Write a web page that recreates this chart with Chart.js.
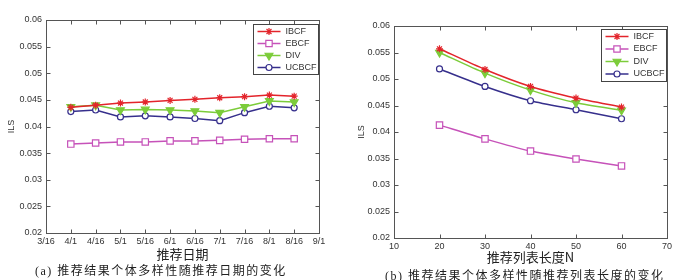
<!DOCTYPE html>
<html>
<head>
<meta charset="utf-8">
<script src="https://cdn.jsdelivr.net/npm/chart.js@4.4.1/dist/chart.umd.min.js"></script>
<style>
    body { margin: 0; background: #fff; width: 700px; height: 280px; position: relative; overflow: hidden; }
    canvas { position: absolute; top: 0; }
    .caption {
        position: absolute;
        font-family: "Liberation Serif", "Noto Sans CJK SC", serif;
        font-size: 12px;
        color: #222;
        white-space: nowrap;
        letter-spacing: 1.5px;
    }
</style>
</head>
<body>
<canvas id="dateChart" width="350" height="280" style="left:0"></canvas>
<canvas id="lengthChart" width="350" height="280" style="left:350px"></canvas>
<div class="caption" style="left:35px; top:261px">(a) 推荐结果个体多样性随推荐日期的变化</div>
<div class="caption" style="left:385px; top:266px">(b) 推荐结果个体多样性随推荐列表长度的变化</div>

<script>
// Данные (a): ILS по датам рекомендаций
const dateLabels = ['3/16', '4/1', '4/16', '5/1', '5/16', '6/1', '6/16', '7/1', '7/16', '8/1', '8/16', '9/1'];
const datePositions = [1, 2, 3, 4, 5, 6, 7, 8, 9, 10];
const ibcfByDate  = [0.0436, 0.0440, 0.0444, 0.0446, 0.0449, 0.0451, 0.0454, 0.0456, 0.0459, 0.0457];
const ebcfByDate  = [0.0367, 0.0369, 0.0371, 0.0371, 0.0373, 0.0373, 0.0374, 0.0376, 0.0377, 0.0377];
const divByDate   = [0.0437, 0.0440, 0.0431, 0.0432, 0.0431, 0.0429, 0.0426, 0.0437, 0.0448, 0.0446];
const ucbcfByDate = [0.0428, 0.0431, 0.0418, 0.0420, 0.0418, 0.0415, 0.0411, 0.0426, 0.0438, 0.0435];

// Данные (b): ILS по длине списка N
const listLengths = [20, 30, 40, 50, 60];
const ibcfByLength  = [0.0557, 0.0518, 0.0486, 0.0464, 0.0447];
const ebcfByLength  = [0.0413, 0.0387, 0.0364, 0.0349, 0.0336];
const divByLength   = [0.0550, 0.0511, 0.0479, 0.0455, 0.0441];
const ucbcfByLength = [0.0519, 0.0486, 0.0459, 0.0442, 0.0425];

const seriesNames = ['IBCF', 'EBCF', 'DIV', 'UCBCF'];
const yMin = 0.02, yMax = 0.06, yStep = 0.005;

// Стили серий
const seriesStyles = [
    { color: '#e3242b', pointStyle: 'star', radius: 3.5, fill: '#e3242b', rotation: 0 },
    { color: '#c652b9', pointStyle: 'rect', radius: 4.5, fill: '#ffffff', rotation: 0 },
    { color: '#7ccc3a', pointStyle: 'triangle', radius: 4.5, fill: '#7ccc3a', rotation: 180 },
    { color: '#362f8c', pointStyle: 'circle', radius: 3, fill: '#ffffff', rotation: 0 }
];

const tickFont = { family: 'Liberation Sans', size: 9 };
const cjkFont = '"Noto Sans CJK SC", "Liberation Serif"';

function makeDatasets(xs, seriesValues, tension) {
    return seriesValues.map((vals, i) => {
        const s = seriesStyles[i];
        return {
            label: seriesNames[i],
            data: vals.map((v, k) => ({ x: xs[k], y: v })),
            borderColor: s.color,
            backgroundColor: s.fill,
            borderWidth: 1.5,
            pointStyle: s.pointStyle,
            pointRadius: s.radius,
            pointRotation: s.rotation,
            pointBorderColor: s.color,
            pointBackgroundColor: s.fill,
            pointBorderWidth: 1.2,
            tension: tension
        };
    });
}

// Рамка и внутренние засечки как в MATLAB
const boxTicks = {
    id: 'boxTicks',
    afterDatasetsDraw(chart) {
        const { ctx, chartArea: a, scales: { x, y } } = chart;
        const len = 4;
        ctx.save();
        ctx.strokeStyle = '#555';
        ctx.lineWidth = 1;
        const l = Math.round(a.left) + 0.5, r = Math.round(a.right) + 0.5;
        const t = Math.round(a.top) + 0.5, b = Math.round(a.bottom) + 0.5;
        ctx.strokeRect(l, t, r - l, b - t);
        ctx.beginPath();
        x.ticks.forEach((tk, i) => {
            const px = Math.round(x.getPixelForTick(i)) + 0.5;
            ctx.moveTo(px, b); ctx.lineTo(px, b - len);
            ctx.moveTo(px, t); ctx.lineTo(px, t + len);
        });
        y.ticks.forEach((tk, i) => {
            const py = Math.round(y.getPixelForTick(i)) + 0.5;
            ctx.moveTo(l, py); ctx.lineTo(l + len, py);
            ctx.moveTo(r, py); ctx.lineTo(r - len, py);
        });
        ctx.stroke();
        ctx.restore();
    }
};

// Легенда в рамке: линия + маркер
const boxLegend = {
    id: 'boxLegend',
    afterDraw(chart) {
        const { ctx, chartArea: a } = chart;
        const opts = chart.options.plugins.boxLegend;
        const w = 65, rowH = opts.rowH, h = rowH * 4 + 2;
        const bx = Math.round(a.right - w - 1) + 0.5, by = Math.round(a.top + opts.top) + 0.5;
        ctx.save();
        ctx.fillStyle = '#fff';
        ctx.fillRect(bx, by, w, h);
        ctx.strokeStyle = '#444';
        ctx.lineWidth = 1;
        ctx.strokeRect(bx, by, w, h);
        chart.data.datasets.forEach((ds, i) => {
            const s = seriesStyles[i];
            const cy = by + 7 + i * rowH;
            ctx.strokeStyle = s.color;
            ctx.lineWidth = 1.5;
            ctx.beginPath();
            ctx.moveTo(bx + 4, cy); ctx.lineTo(bx + 27, cy);
            ctx.stroke();
            ctx.fillStyle = s.fill;
            ctx.lineWidth = 1.2;
            Chart.helpers.drawPoint(ctx, {
                pointStyle: s.pointStyle, radius: s.radius, rotation: s.rotation, borderWidth: 1.2
            }, bx + 15.5, cy);
            ctx.fillStyle = '#333';
            ctx.font = '9px "Liberation Sans"';
            ctx.textBaseline = 'middle';
            ctx.fillText(ds.label, bx + 32, cy);
        });
        ctx.restore();
    }
};

function makeChart(canvasId, cfg) {
    const ctx = document.getElementById(canvasId).getContext('2d');
    return new Chart(ctx, {
        type: 'line',
        data: { datasets: cfg.datasets },
        options: {
            responsive: false,
            animation: false,
            layout: { padding: { top: cfg.top, right: cfg.right, left: 0, bottom: 0 } },
            plugins: {
                legend: { display: false },
                tooltip: { enabled: false },
                boxLegend: { top: cfg.legendTop, rowH: cfg.legendRow }
            },
            scales: {
                x: {
                    type: 'linear',
                    min: cfg.xMin,
                    max: cfg.xMax,
                    grid: { display: false, drawTicks: false },
                    border: { display: false },
                    ticks: {
                        stepSize: cfg.xStep,
                        autoSkip: false,
                        maxRotation: 0,
                        padding: 3,
                        color: '#333',
                        font: tickFont,
                        callback: cfg.xCallback
                    },
                    title: {
                        display: true,
                        text: cfg.xTitle,
                        color: '#222',
                        font: { family: cjkFont, size: 13 },
                        padding: { top: 0, bottom: cfg.xTitlePad }
                    },
                    afterFit: scale => { scale.height = cfg.xHeight; }
                },
                y: {
                    min: yMin,
                    max: yMax,
                    grid: { display: false, drawTicks: false },
                    border: { display: false },
                    ticks: {
                        stepSize: yStep,
                        padding: 4,
                        color: '#333',
                        font: tickFont,
                        callback: v => String(+v.toFixed(3))
                    },
                    title: {
                        display: true,
                        text: 'ILS',
                        color: '#333',
                        font: { family: 'Liberation Sans', size: 9 },
                        padding: { top: 6.5, bottom: 0 }
                    },
                    afterFit: scale => { scale.width = cfg.yWidth; }
                }
            }
        },
        plugins: [boxTicks, boxLegend]
    });
}

document.addEventListener('DOMContentLoaded', function() {
    makeChart('dateChart', {
        datasets: makeDatasets(datePositions, [ibcfByDate, ebcfByDate, divByDate, ucbcfByDate], 0),
        top: 20, right: 31, yWidth: 46, xHeight: 47, xTitlePad: 18,
        xMin: 0, xMax: 11, xStep: 1,
        xCallback: v => dateLabels[v],
        xTitle: '推荐日期',
        legendTop: 4, legendRow: 12
    });
    makeChart('lengthChart', {
        datasets: makeDatasets(listLengths, [ibcfByLength, ebcfByLength, divByLength, ucbcfByLength], 0.25),
        top: 26, right: 33, yWidth: 44, xHeight: 42, xTitlePad: 15,
        xMin: 10, xMax: 70, xStep: 10,
        xCallback: v => String(v),
        xTitle: '推荐列表长度N',
        legendTop: 3, legendRow: 12.5
    });
});
</script>
</body>
</html>
